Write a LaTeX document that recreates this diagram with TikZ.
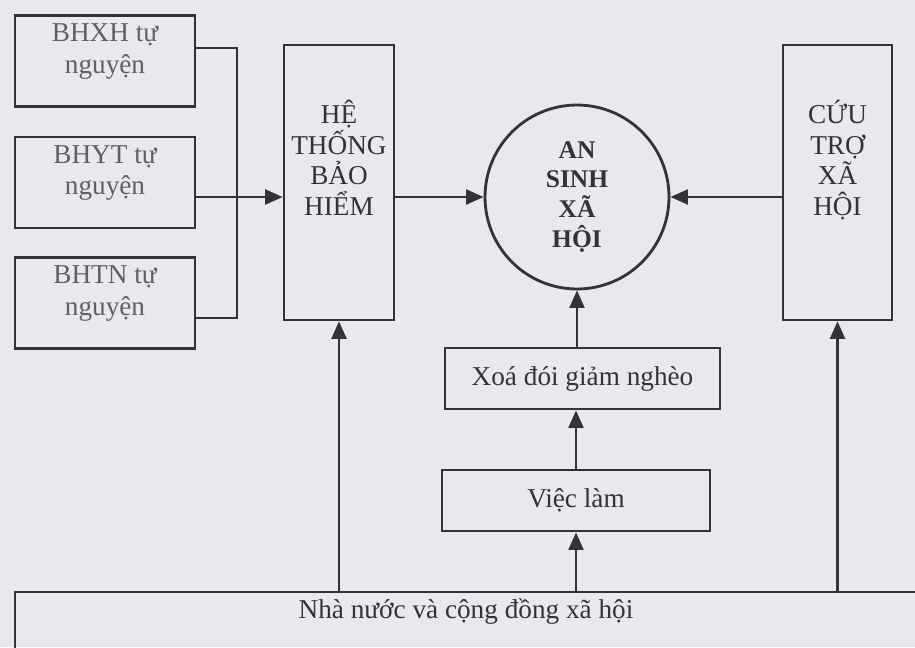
\documentclass[tikz,border=0pt]{standalone}
\usepackage{fontspec}
\setmainfont{Liberation Serif}
\usetikzlibrary{arrows.meta}
\definecolor{scanbg}{RGB}{232,232,238}
\definecolor{ink}{RGB}{50,50,55}
\definecolor{softink}{RGB}{95,95,100}
\begin{document}
\begin{tikzpicture}[
  x=0.02cm, y=-0.02cm,
  box/.style={draw=ink, line width=1.6pt, minimum width=3.6cm, minimum height=1.82cm, align=center, text=softink, text depth=14pt, font=\fontsize{15.5}{18}\selectfont},
  tallbox/.style={draw=ink, line width=1.5pt, minimum width=2.2cm, minimum height=5.5cm, align=center, text=ink, text depth=28pt, font=\fontsize{15.5}{17.5}\selectfont},
  hub/.style={draw=ink, line width=1.6pt, circle, minimum size=3.68cm, align=center, text=ink, font=\fontsize{14.5}{17}\selectfont\bfseries},
  stepbox/.style={draw=ink, line width=1.6pt, minimum height=1.22cm, align=center, text=ink, font=\fontsize{15.5}{18}\selectfont},
  arrow/.style={-{Triangle[length=10pt,width=8.5pt]}, draw=ink, line width=1.4pt},
  link/.style={draw=ink, line width=1.6pt}
]
\useasboundingbox (0,0) rectangle (915,647);
\fill[scanbg] (0,0) rectangle (915,647);
\node[box] (bhxh) at (105,61) {BHXH tự\\nguyện};
\node[box] (bhyt) at (105,182.5) {BHYT tự\\nguyện};
\node[box] (bhtn) at (105,303) {BHTN tự\\nguyện};
\node[tallbox] (htbh) at (339,182.5) {HỆ\\THỐNG\\BẢO\\HIỂM};
\node[hub] (asxh) at (577,197) {AN\\SINH\\XÃ\\HỘI};
\node[tallbox, minimum width=2.18cm] (ctxh) at (837.5,182.5) {CỨU\\TRỢ\\XÃ\\HỘI};
\node[stepbox, minimum width=5.5cm] (xoa) at (582.5,378.5) {Xoá đói giảm nghèo};
\node[stepbox, minimum width=5.36cm] (vieclam) at (576,500.5) {Việc làm};
\node[draw=ink, line width=1.6pt, minimum width=18.5cm, minimum height=1.76cm] (base) at (477.5,636) {};
\node[text=ink, font=\fontsize{15.5}{18}\selectfont] (basetext) at (466,612) {Nhà nước và cộng đồng xã hội};
% voluntary schemes feed the insurance system
\coordinate (jtop) at (237,48);
\coordinate (jbot) at (237,318);
\draw[link] (bhxh.east |- jtop) -- (jtop) -- (jbot) -- (bhtn.east |- jbot);
\draw[arrow] (bhyt.east |- asxh) -- (htbh.west |- asxh);
\draw[arrow] (htbh.east |- asxh) -- (asxh.west);
\draw[arrow] (ctxh.west |- asxh) -- (asxh.east);
% central column
\draw[arrow] (vieclam.north) -- (vieclam.north |- xoa.south);
\draw[arrow] (xoa.north -| asxh.south) -- (asxh.south);
% from the state and community
\draw[arrow] (base.north -| htbh.south) -- (htbh.south);
\draw[arrow] (base.north -| vieclam.south) -- (vieclam.south);
\draw[arrow] (base.north -| ctxh.south) -- (ctxh.south);
\end{tikzpicture}
\end{document}
